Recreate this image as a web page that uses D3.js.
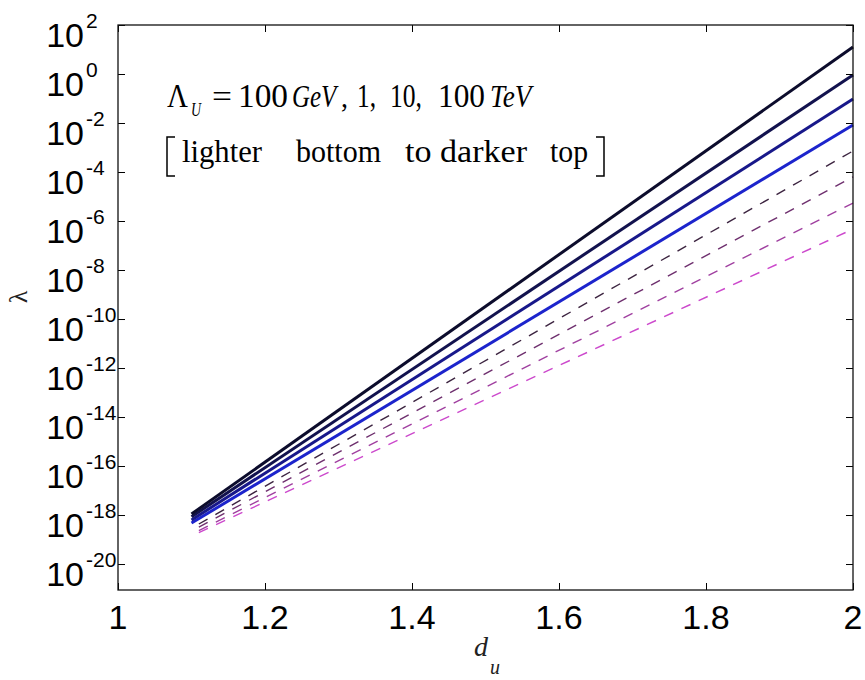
<!DOCTYPE html>
<html><head><meta charset="utf-8">
<script src="https://cdn.jsdelivr.net/npm/d3@7"></script>
<style>body{margin:0;background:#fff}svg{display:block}</style>
</head><body>
<svg id="chart" width="865" height="680"></svg>
<script>
// ---- data ----
const xTicks = [1, 1.2, 1.4, 1.6, 1.8, 2];
const xTickLabels = ["1", "1.2", "1.4", "1.6", "1.8", "2"];
const yTickExps = [2, 0, -2, -4, -6, -8, -10, -12, -14, -16, -18, -20];
const dSolid = [1.1, 2.0];
const dDashed = [1.11, 2.0];
const solid100TeV = [1.1e-18, 12.6];
const solid10TeV = [8.5e-19, 0.92];
const solid1TeV = [6.3e-19, 0.095];
const solid100GeV = [4.7e-19, 8.3e-3];
const dashed100TeV = [4.3e-19, 7.2e-4];
const dashed10TeV = [3.2e-19, 6.3e-5];
const dashed1TeV = [2.3e-19, 5.4e-6];
const dashed100GeV = [1.9e-19, 4.7e-7];

const solidSeries = [solid100TeV, solid10TeV, solid1TeV, solid100GeV];
const dashedSeries = [dashed100TeV, dashed10TeV, dashed1TeV, dashed100GeV];
const solidColors = ["#0c0c2c", "#12124e", "#18188a", "#1c24cc"];
const dashedColors = ["#3c2440", "#6e2f6e", "#a040a0", "#cc48cc"];

// ---- layout ----
const L = 118, T = 25, R = 853, B = 590;
const svg = d3.select("#chart");
const x = d3.scaleLinear().domain([1, 2]).range([L, R]);
const y = d3.scaleLog().domain([Math.pow(10, -21.06), 100]).range([B, T]);

const line = d3.line().x(d => x(d[0])).y(d => y(d[1]));

// lines
dashedSeries.forEach((s, i) => {
  svg.append("path")
    .attr("d", line(dDashed.map((d, j) => [d, s[j]])))
    .attr("fill", "none").attr("stroke", dashedColors[i])
    .attr("stroke-width", 1.4).attr("stroke-dasharray", "10,9");
});
solidSeries.slice().reverse().forEach((s, k) => {
  const i = solidSeries.length - 1 - k;
  svg.append("path")
    .attr("d", line(dSolid.map((d, j) => [d, s[j]])))
    .attr("fill", "none").attr("stroke", solidColors[i])
    .attr("stroke-width", 3);
});

// axes (ticks inward)
const yVals = yTickExps.map(e => Math.pow(10, e));
svg.append("g").attr("transform", `translate(${L},0)`)
  .call(d3.axisRight(y).tickValues(yVals).tickSize(7).tickFormat(""))
  .call(g => g.select(".domain").remove());
svg.append("g").attr("transform", `translate(${R},0)`)
  .call(d3.axisLeft(y).tickValues(yVals).tickSize(7).tickFormat(""))
  .call(g => g.select(".domain").remove());
svg.append("g").attr("transform", `translate(0,${B})`)
  .call(d3.axisTop(x).tickValues(xTicks).tickSize(7).tickFormat(""))
  .call(g => g.select(".domain").remove());
svg.append("g").attr("transform", `translate(0,${T})`)
  .call(d3.axisBottom(x).tickValues(xTicks).tickSize(7).tickFormat(""))
  .call(g => g.select(".domain").remove());
svg.selectAll(".tick line").attr("stroke", "#000");

svg.append("rect").attr("x", L).attr("y", T).attr("width", R - L).attr("height", B - T)
  .attr("fill", "none").attr("stroke", "#111").attr("stroke-width", 1.3);

// x tick labels
svg.append("g").selectAll("text").data(xTicks).join("text")
  .attr("x", d => x(d)).attr("y", 629)
  .attr("text-anchor", "middle")
  .attr("font-family", "Liberation Sans, Arial, sans-serif").attr("font-size", 34)
  .attr("fill", "#000")
  .text((d, i) => xTickLabels[i]);

// y tick labels 10^e
const yl = svg.append("g").selectAll("g").data(yTickExps).join("g")
  .attr("transform", e => `translate(0,${y(Math.pow(10, e))})`);
yl.append("text").attr("x", 84).attr("y", 22).attr("text-anchor", "end")
  .attr("font-family", "Liberation Sans, Arial, sans-serif").attr("font-size", 34)
  .attr("fill", "#000").text("10");
yl.append("text").attr("x", 86).attr("y", 3)
  .attr("font-family", "Liberation Sans, Arial, sans-serif").attr("font-size", 21)
  .attr("fill", "#000").text(e => String(e));

// axis titles
svg.append("text").attr("transform", "translate(27,297) rotate(-90)")
  .attr("text-anchor", "middle")
  .attr("font-family", "Liberation Serif, Times New Roman, serif").attr("font-size", 26)
  .attr("fill", "#222").text("λ");
svg.append("text").attr("x", 474).attr("y", 656)
  .attr("font-family", "Liberation Serif, Times New Roman, serif").attr("font-style", "italic")
  .attr("font-size", 28).attr("fill", "#222").text("d");
svg.append("text").attr("x", 490).attr("y", 674)
  .attr("font-family", "Liberation Serif, Times New Roman, serif").attr("font-style", "italic")
  .attr("font-size", 20).attr("fill", "#222").text("u");

// annotation
const serif = "Liberation Serif, Times New Roman, serif";
function piece(txt, px, py, len, opts = {}) {
  const t = svg.append("text").attr("x", px).attr("y", py)
    .attr("font-family", serif).attr("font-size", opts.size || 32)
    .attr("font-style", opts.italic ? "italic" : "normal")
    .attr("fill", "#000").text(txt);
  if (len) t.attr("textLength", len).attr("lengthAdjust", "spacingAndGlyphs");
  return t;
}
function scaled(txt, px, py, sx, size, italic) {
  return svg.append("text").attr("transform", `translate(${px},${py}) scale(${sx},1)`)
    .attr("font-family", serif).attr("font-size", size)
    .attr("font-style", italic ? "italic" : "normal")
    .attr("fill", "#000").text(txt);
}
piece("Λ", 167, 107, 21, {size: 33});
piece("U", 191, 116, 10, {size: 18, italic: true});
piece("=", 212, 107, 20);
piece("100", 238, 107, 50, {size: 33});
scaled("GeV", 292, 107, 0.78, 32, true);
piece(",", 341, 107, 7, {size: 30});
piece("1,", 357, 107, 19, {size: 33});
piece("10,", 390, 107, 32, {size: 33});
piece("100", 438, 107, 47, {size: 33});
scaled("TeV", 490, 107, 0.85, 32, true);

piece("lighter", 182, 162, 80);
piece("bottom", 296, 162, 85);
piece("to darker", 405, 162, 122);
piece("top", 550, 162, 38);
svg.append("path").attr("d", "M175,137 H167 V176 H175")
  .attr("fill", "none").attr("stroke", "#000").attr("stroke-width", 1.5);
svg.append("path").attr("d", "M596,137 H604 V176 H596")
  .attr("fill", "none").attr("stroke", "#000").attr("stroke-width", 1.5);
</script>
</body></html>
